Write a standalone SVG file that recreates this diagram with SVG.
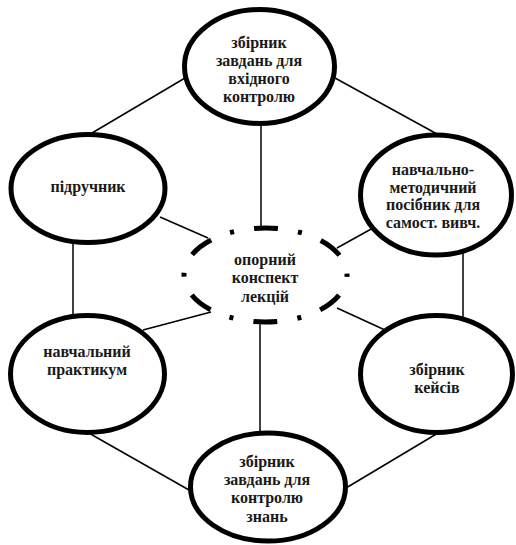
<svg xmlns="http://www.w3.org/2000/svg" width="516" height="545" viewBox="0 0 516 545">
  <style>
    .node { fill: #ffffff; stroke: #000000; stroke-width: 5; }
    .hub { fill: #ffffff; stroke: #000000; stroke-width: 5; stroke-linecap: butt;
           stroke-dasharray: 24 20.25 4 20.25; stroke-dashoffset: 46.25; }
    .link { stroke: #000000; stroke-width: 1.5; fill: none; }
    text { font-family: "Liberation Serif", "DejaVu Serif", "Times New Roman", serif; font-weight: bold;
           font-size: 16px; fill: #1a1a1a; text-anchor: middle; }
  </style>
  <rect width="516" height="545" fill="#ffffff"/>

  <!-- connectors -->
  <g id="connectors">
    <!-- outer ring -->
    <line class="link" x1="92" y1="133" x2="185" y2="78"/>
    <line class="link" x1="335" y1="78" x2="437" y2="134"/>
    <line class="link" x1="73" y1="243" x2="73" y2="317"/>
    <line class="link" x1="463" y1="251" x2="463" y2="319"/>
    <line class="link" x1="87" y1="432" x2="189" y2="490"/>
    <line class="link" x1="346" y1="488" x2="438" y2="433"/>
    <!-- spokes to the hub -->
    <line class="link" x1="261" y1="122" x2="261" y2="227"/>
    <line class="link" x1="160" y1="217" x2="208" y2="238"/>
    <line class="link" x1="373" y1="228" x2="337" y2="248"/>
    <line class="link" x1="143" y1="330" x2="211" y2="312"/>
    <line class="link" x1="385" y1="330" x2="337" y2="308"/>
    <line class="link" x1="260" y1="323" x2="260" y2="432"/>
  </g>

  <g id="hub">
    <ellipse class="hub" cx="265.5" cy="275" rx="81.5" ry="47"/>
    <text x="265" y="265">опорний</text>
    <text x="265" y="283">конспект</text>
    <text x="265" y="302">лекцій</text>
  </g>

  <g id="entry-tasks">
    <ellipse class="node" cx="259.5" cy="66.5" rx="75" ry="57"/>
    <text x="259" y="48">збірник</text>
    <text x="259" y="66">завдань для</text>
    <text x="259" y="84">вхідного</text>
    <text x="259" y="102">контролю</text>
  </g>

  <g id="textbook">
    <ellipse class="node" cx="88" cy="188.5" rx="77" ry="54"/>
    <text x="88" y="192">підручник</text>
  </g>

  <g id="self-study-guide">
    <ellipse class="node" cx="436" cy="195" rx="75.5" ry="60"/>
    <text x="433" y="175">навчально-</text>
    <text x="433" y="193">методичний</text>
    <text x="433" y="210">посібник для</text>
    <text x="433" y="228">самост. вивч.</text>
  </g>

  <g id="workshop">
    <ellipse class="node" cx="87.5" cy="374" rx="77" ry="58.5"/>
    <text x="87" y="357">навчальний</text>
    <text x="87" y="375">практикум</text>
  </g>

  <g id="cases">
    <ellipse class="node" cx="436.5" cy="374" rx="76" ry="58.5"/>
    <text x="437" y="375">збірник</text>
    <text x="437" y="393">кейсів</text>
  </g>

  <g id="control-tasks">
    <ellipse class="node" cx="268" cy="487" rx="77.5" ry="54"/>
    <text x="267" y="467">збірник</text>
    <text x="267" y="485">завдань для</text>
    <text x="267" y="503">контролю</text>
    <text x="267" y="522">знань</text>
  </g>
</svg>
